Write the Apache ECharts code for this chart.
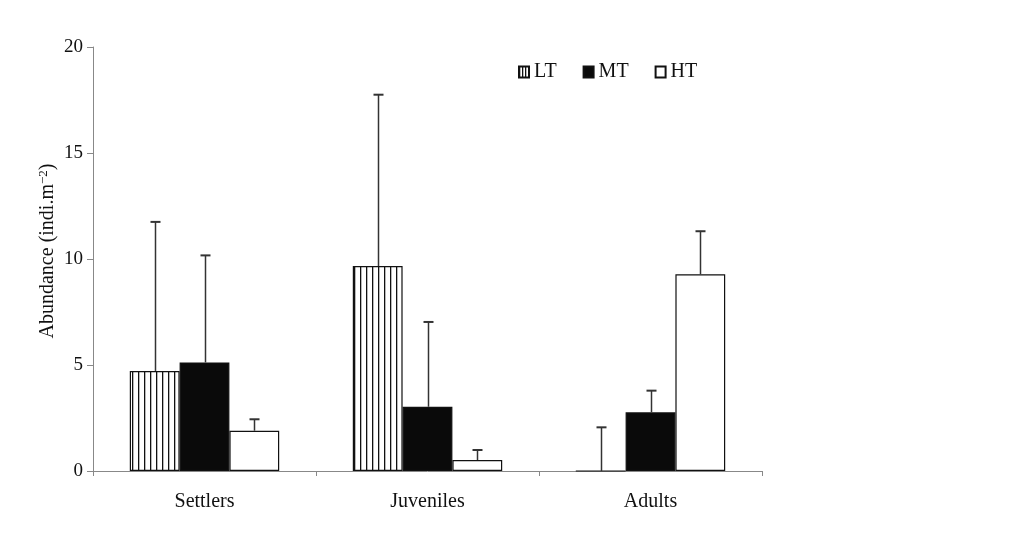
<!DOCTYPE html>
<html>
<head>
<meta charset="utf-8">
<script src="https://cdn.jsdelivr.net/npm/echarts@6/dist/echarts.min.js"></script>
<style>html,body{margin:0;padding:0;background:#fff;}#c{width:1013px;height:558px;}</style>
</head>
<body>
<div id="c"></div>
<script>
var categories = ['Settlers', 'Juveniles', 'Adults'];
var seriesNames = ['LT', 'MT', 'HT'];
var ltMean = [4.72, 9.67, 0];
var ltUpper = [11.75, 17.75, 2.06];
var mtMean = [5.12, 3.03, 2.77];
var mtUpper = [10.17, 7.03, 3.79];
var htMean = [1.90, 0.52, 9.28];
var htUpper = [2.44, 0.99, 11.31];
var yTicks = [0, 5, 10, 15, 20];

var FONT = 'Liberation Serif';
var CAT_GAP = 0.33;

function stripePattern(step) {
  var cv = document.createElement('canvas');
  cv.width = step; cv.height = 10;
  var ctx = cv.getContext('2d');
  ctx.fillStyle = '#ffffff';
  ctx.fillRect(0, 0, step, 10);
  ctx.fillStyle = '#111111';
  ctx.fillRect(0, 0, 1.3, 10);
  return cv;
}
var pattern = { image: stripePattern(6), repeat: 'repeat' };
var legendPattern = { image: stripePattern(3), repeat: 'repeat' };

var means = [ltMean, mtMean, htMean];
var uppers = [ltUpper, mtUpper, htUpper];
var fills = [pattern, '#0a0a0a', '#ffffff'];

var series = [];
seriesNames.forEach(function (name, k) {
  series.push({
    name: name,
    type: 'bar',
    data: means[k],
    barGap: '0%',
    barCategoryGap: (CAT_GAP * 100) + '%',
    itemStyle: { color: fills[k], borderColor: '#111', borderWidth: 1.2 },
    emphasis: { disabled: true },
    z: 2
  });
});
seriesNames.forEach(function (name, k) {
  var data = categories.map(function (c, i) { return [i, means[k][i], uppers[k][i]]; });
  series.push({
    type: 'custom',
    name: name + '_err',
    data: data,
    encode: { x: 0, y: [1, 2] },
    z: 5,
    silent: true,
    renderItem: function (params, api) {
      var idx = api.value(0);
      var base = api.coord([idx, api.value(1)]);
      var top = api.coord([idx, api.value(2)]);
      var catW = api.size([1, 0])[0];
      var barW = catW * (1 - CAT_GAP) / 3;
      var x = Math.round(base[0] + (k - 1) * barW) + 0.5;
      var capHalf = 5;
      return {
        type: 'group',
        children: [
          { type: 'line', shape: { x1: x, y1: base[1], x2: x, y2: top[1] }, style: { stroke: '#333', lineWidth: 1.5 } },
          { type: 'line', shape: { x1: x - capHalf, y1: top[1], x2: x + capHalf, y2: top[1] }, style: { stroke: '#333', lineWidth: 2 } }
        ]
      };
    }
  });
});

var chart = echarts.init(document.getElementById('c'), null, { renderer: 'canvas' });
chart.setOption({
  backgroundColor: '#ffffff',
  animation: false,
  grid: { left: 93, right: 251, top: 47, bottom: 87, containLabel: false },
  legend: {
    data: [
      { name: seriesNames[0], itemStyle: { color: legendPattern } },
      seriesNames[1],
      seriesNames[2]
    ],
    left: 518,
    top: 62,
    padding: 0,
    itemWidth: 10,
    itemHeight: 11,
    itemGap: 26,
    icon: 'rect',
    textStyle: { fontFamily: FONT, fontSize: 20, color: '#111' },
    selectedMode: false
  },
  xAxis: {
    type: 'category',
    data: categories,
    boundaryGap: true,
    axisLine: { lineStyle: { color: '#888', width: 1 } },
    axisTick: { show: true, length: 5, lineStyle: { color: '#888' } },
    axisLabel: { fontFamily: FONT, fontSize: 20, color: '#111', margin: 21 }
  },
  yAxis: {
    type: 'value',
    min: yTicks[0],
    max: yTicks[yTicks.length - 1],
    interval: yTicks[1] - yTicks[0],
    name: '{a|Abundance (indi.m}{s|−2}{a|)}',
    nameLocation: 'middle',
    nameGap: 35,
    nameRotate: 90,
    nameMoveOverlap: false,
    nameTextStyle: {
      padding: [0, 0, 0, 16],
      rich: {
        a: { fontFamily: FONT, fontSize: 20, color: '#111' },
        s: { fontFamily: FONT, fontSize: 13, color: '#111', verticalAlign: 'top', padding: [0, 0, 8, 0] }
      }
    },
    axisLine: { show: true, lineStyle: { color: '#888', width: 1 } },
    axisTick: { show: true, length: 6, lineStyle: { color: '#888' } },
    splitLine: { show: false },
    axisLabel: { fontFamily: FONT, fontSize: 19, color: '#111', margin: 10 }
  },
  series: series
});
</script>
</body>
</html>
